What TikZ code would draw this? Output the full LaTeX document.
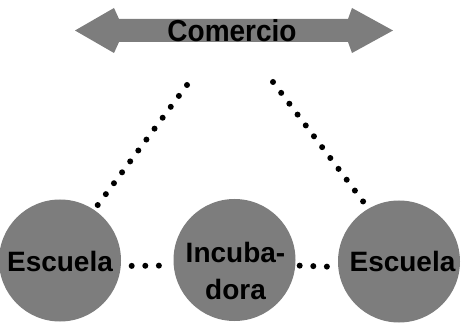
\documentclass[tikz,border=0pt]{standalone}
\usepackage{fontspec}
\setmainfont{Liberation Sans}
\usepackage{graphicx}
\definecolor{discgray}{RGB}{125,125,125}
\begin{document}
\begin{tikzpicture}[x=1pt,y=-1pt,
  disc/.style={circle, fill=discgray, minimum size=122pt, inner sep=0pt},
  lbl/.style={font=\bfseries\fontsize{28}{37}\selectfont, inner sep=0pt, align=center},
  dotline/.style={line width=6pt, line cap=round, dash pattern=on 0pt off 13.6pt}]
\useasboundingbox (0,0) rectangle (461,326);
% double arrow
\fill[discgray] (75,30.5) -- (114,8) -- (119,19) -- (348,19) -- (352,8) -- (393,30.5)
  -- (352,53) -- (348,42) -- (119,42) -- (114,53) -- cycle;
\node[lbl, anchor=base] (com) at (232,42) {\scalebox{1}[1.08]{Comercio}};
% circles
\node[disc] (e1) at (60,260.5) {};
\node[disc] (inc) at (234.5,260) {};
\node[disc] (e2) at (399,261.5) {};
\node[lbl, anchor=base] (t1) at (60,272) {Escuela};
\node[lbl, anchor=center] (t2) at (235.5,271) {Incuba-\\dora};
\node[lbl, anchor=base] (t3) at (402.5,272) {Escuela};
% dotted connectors
\coordinate (lt) at (187,85);
\coordinate (rt) at (273,82);
\draw[dotline, shorten >=5.5pt] (lt) -- (e1.56);
\draw[dotline, shorten >=7.5pt] (rt) -- (e2.120);
\draw[dotline, shorten <=10.5pt, shorten >=13pt] ([yshift=-5.5pt]e1.east) -- ([yshift=-5.5pt]inc.west);
\draw[dotline, shorten <=4pt, shorten >=10pt] ([yshift=-5.5pt]inc.east) -- ([yshift=-5.5pt]e2.west);
\end{tikzpicture}
\end{document}
